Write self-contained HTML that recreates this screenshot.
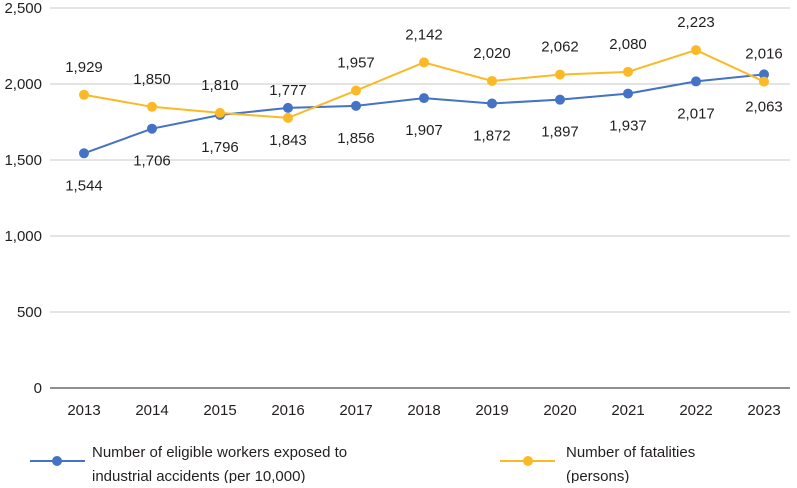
<!DOCTYPE html>
<html><head><meta charset="utf-8"><style>
body{margin:0;background:#fff;font-family:"Liberation Sans",sans-serif}
svg text{font-family:"Liberation Sans",sans-serif;fill:#231f20}
</style></head><body>
<svg id="c" width="797" height="483"></svg>
<script>
const years=["2013","2014","2015","2016","2017","2018","2019","2020","2021","2022","2023"];
const workers=[1544,1706,1796,1843,1856,1907,1872,1897,1937,2017,2063];
const fatalities=[1929,1850,1810,1777,1957,2142,2020,2062,2080,2223,2016];
const yTicks=[0,500,1000,1500,2000,2500];
const svg=document.getElementById('c');
const NS='http://www.w3.org/2000/svg';
const y=v=>388-v*0.152;
const x=i=>84+i*68;
const fmt=v=>v.toLocaleString('en-US');
function mk(t,a){const e=document.createElementNS(NS,t);for(const k in a)e.setAttribute(k,a[k]);svg.appendChild(e);return e;}
yTicks.forEach(t=>{
  const l=mk('line',{x1:50,x2:790,y1:y(t),y2:y(t),stroke:t===0?'#231f20':'#c8c8c8','stroke-width':1});
  
  
  const tx=mk('text',{x:42,y:y(t)+5,'text-anchor':'end','font-size':15});
  tx.textContent=fmt(t);
  
  
});
years.forEach((yr,i)=>{
  const tx=mk('text',{x:x(i),y:415,'text-anchor':'middle','font-size':15});
  tx.textContent=yr;
  
  
});
function series(vals,color,name,off){
  const p=mk('polyline',{points:vals.map((v,i)=>x(i)+','+y(v)).join(' '),fill:'none',stroke:color,'stroke-width':2});
  
  
  vals.forEach((v,i)=>{
    const c=mk('circle',{cx:x(i),cy:y(v),r:5,fill:color});
    
    
    const t=mk('text',{x:x(i),y:y(v)+off,'text-anchor':'middle','font-size':15});
    t.textContent=fmt(v);
    
    
  });
}
series(workers,'#4472c4','workers',37);
series(fatalities,'#fbb926','fatalities',-23);
</script>
<svg style="position:absolute;left:0;top:0" width="797" height="483">
<g>
<line x1="30" x2="85" y1="461" y2="461" stroke="#4472c4" stroke-width="2"/><circle cx="57" cy="461" r="5" fill="#4472c4"/>
<text x="92" y="457" font-size="15">Number of eligible workers exposed to</text>
<text x="92" y="481" font-size="15">industrial accidents (per 10,000)</text></g>
<g>
<line x1="500" x2="555" y1="461" y2="461" stroke="#fbb926" stroke-width="2"/><circle cx="528" cy="461" r="5" fill="#fbb926"/>
<text x="566" y="457" font-size="15">Number of fatalities</text>
<text x="566" y="481" font-size="15">(persons)</text></g>
</svg>
</body></html>
